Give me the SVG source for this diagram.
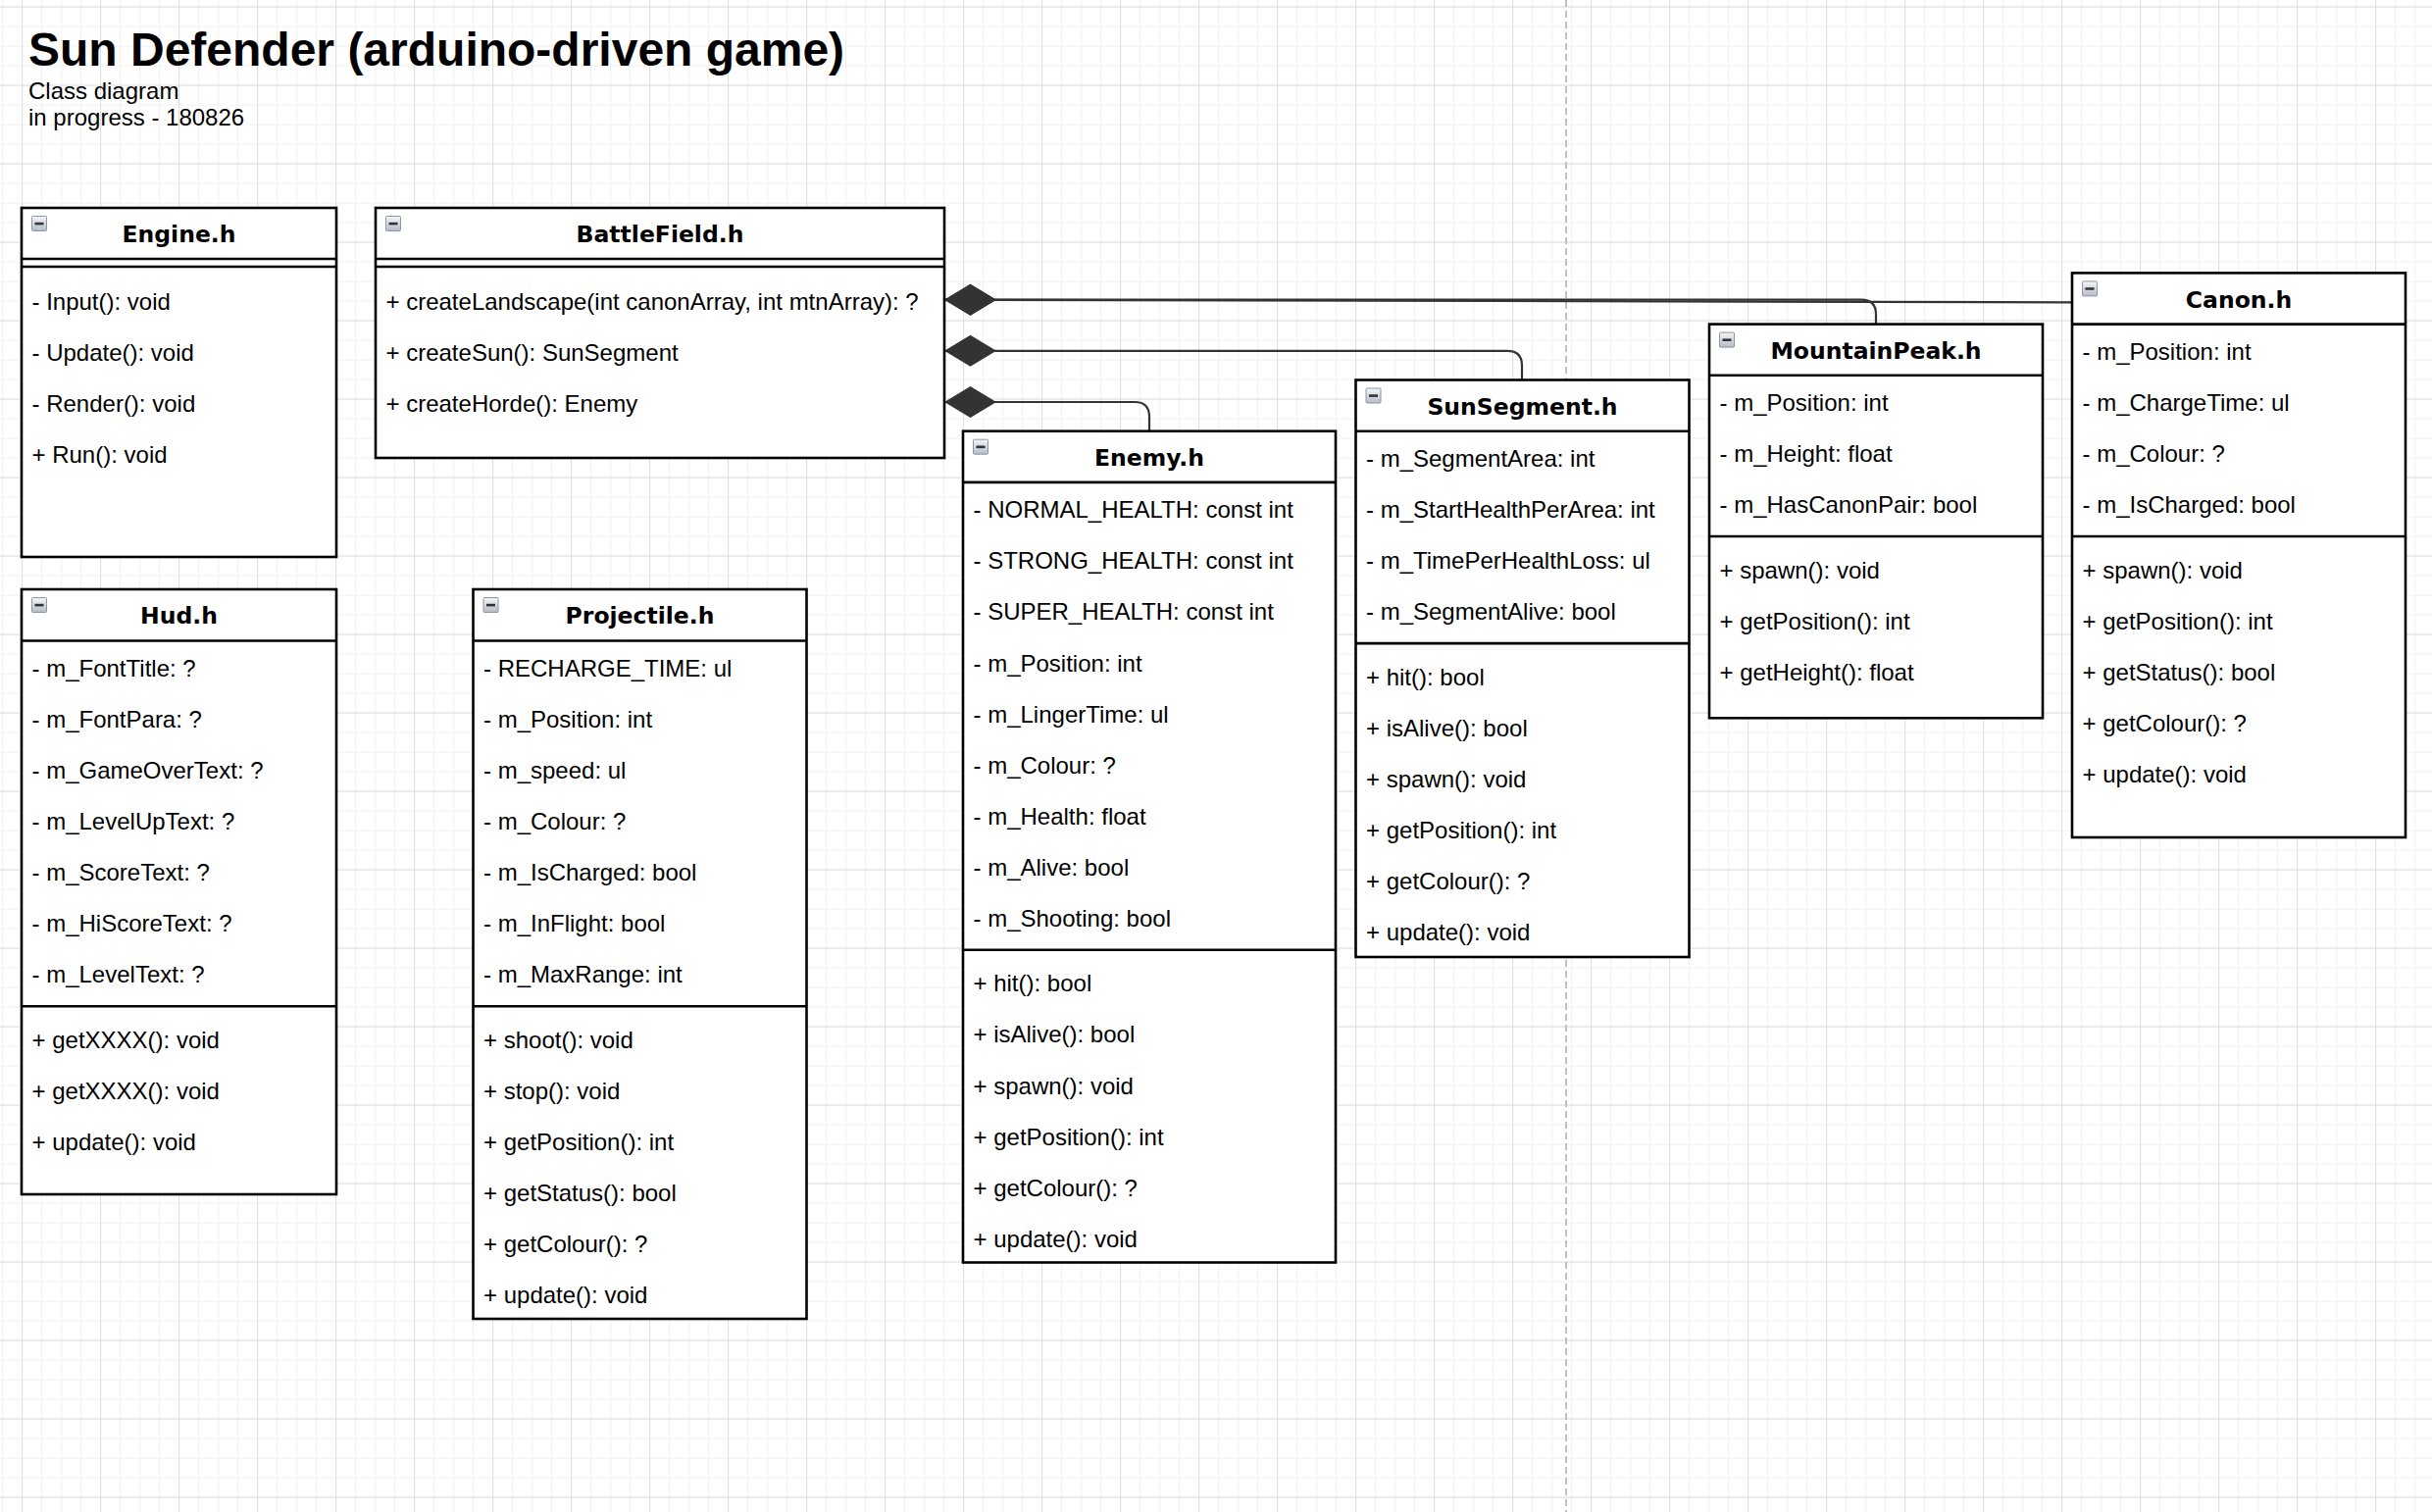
<svg xmlns="http://www.w3.org/2000/svg" xmlns:xlink="http://www.w3.org/1999/xlink" width="2480" height="1542" viewBox="0 0 2480 1542">
<defs>
<style>
.box{fill:#fff;stroke:#000;stroke-width:2.6}
.sep{stroke:#000;stroke-width:2.6}
.hd{font-family:"DejaVu Sans",Verdana,sans-serif;font-weight:bold;font-size:23.5px;text-anchor:middle;fill:#000}
.it{font-family:"Liberation Sans",Arial,sans-serif;font-size:24px;fill:#000}
.conn{fill:none;stroke:#333;stroke-width:2.2;marker-start:url(#dmd)}
.title{font-family:"Liberation Sans",Arial,sans-serif;font-weight:bold;font-size:48px;fill:#000}
.sub{font-family:"Liberation Sans",Arial,sans-serif;font-size:24px;fill:#000}
</style>
<pattern id="minor" patternUnits="userSpaceOnUse" x="2" y="6.5" width="20" height="20">
<path d="M0 0.5H20M0.5 0V20" fill="none" stroke="#f2f2f2" stroke-width="1.3"/>
</pattern>
<pattern id="major" patternUnits="userSpaceOnUse" x="22" y="6.5" width="80" height="80">
<path d="M0 0.5H80M0.5 0V80" fill="none" stroke="#dedede" stroke-width="1"/>
</pattern>
<linearGradient id="icoG" x1="0" y1="0" x2="0" y2="1">
<stop offset="0" stop-color="#f4f6f8"/>
<stop offset="1" stop-color="#b4bcc8"/>
</linearGradient>
<g id="ico">
<rect x="0.5" y="0.5" width="15" height="15" rx="1" fill="url(#icoG)" stroke="#8c96a4" stroke-width="1"/>
<rect x="3.5" y="6.8" width="9" height="2.6" fill="#333"/>
</g>
<marker id="dmd" markerUnits="userSpaceOnUse" markerWidth="54" markerHeight="34" refX="0" refY="16" orient="auto" overflow="visible">
<path d="M0,16 L26.5,0 L53,16 L26.5,32 Z" fill="#333"/>
</marker>
</defs>

<rect width="2480" height="1542" fill="#fff"/>
<rect width="2480" height="1542" fill="url(#minor)"/>
<rect width="2480" height="1542" fill="url(#major)"/>
<line x1="1597" y1="0" x2="1597" y2="1542" stroke="#c0c0c0" stroke-width="2" stroke-dasharray="7 4"/>

<g id="title">
<text class="title" x="29" y="67">Sun Defender (arduino-driven game)</text>
<text class="sub" x="29" y="101">Class diagram</text>
<text class="sub" x="29" y="128">in progress - 180826</text>
</g>

<g id="connectors">
<path class="conn" d="M963,305.7 H1898 Q1913,305.7 1913,320.7 V330.6"/>
<path class="conn" d="M963,305.7 L2113,308.4"/>
<path class="conn" d="M963,357.8 H1537 Q1552,357.8 1552,372.8 V387.5"/>
<path class="conn" d="M963,410 H1157 Q1172,410 1172,425 V439.7"/>
</g>

<g id="engine">
<rect class="box" x="22" y="212" width="321" height="356"/>
<line class="sep" x1="22" y1="264" x2="343" y2="264"/>
<line class="sep" x1="22" y1="272" x2="343" y2="272"/>
<use xlink:href="#ico" x="32" y="220"/>
<text class="hd" x="182.5" y="247">Engine.h</text>
<text class="it" x="32.5" y="315.5">- Input(): void</text>
<text class="it" x="32.5" y="367.7">- Update(): void</text>
<text class="it" x="32.5" y="419.9">- Render(): void</text>
<text class="it" x="32.5" y="472.1">+ Run(): void</text>
</g>

<g id="battlefield">
<rect class="box" x="383" y="212" width="580" height="255"/>
<line class="sep" x1="383" y1="264" x2="963" y2="264"/>
<line class="sep" x1="383" y1="272" x2="963" y2="272"/>
<use xlink:href="#ico" x="393" y="220"/>
<text class="hd" x="673" y="247">BattleField.h</text>
<text class="it" x="393.5" y="315.5">+ createLandscape(int canonArray, int mtnArray): ?</text>
<text class="it" x="393.5" y="367.7">+ createSun(): SunSegment</text>
<text class="it" x="393.5" y="419.9">+ createHorde(): Enemy</text>
</g>

<g id="hud">
<rect class="box" x="22" y="601" width="321" height="617"/>
<line class="sep" x1="22" y1="653.5" x2="343" y2="653.5"/>
<line class="sep" x1="22" y1="1026.2" x2="343" y2="1026.2"/>
<use xlink:href="#ico" x="32" y="609"/>
<text class="hd" x="182.5" y="636.3">Hud.h</text>
<text class="it" x="32.5" y="689.8">- m_FontTitle: ?</text>
<text class="it" x="32.5" y="741.9">- m_FontPara: ?</text>
<text class="it" x="32.5" y="794">- m_GameOverText: ?</text>
<text class="it" x="32.5" y="846.1">- m_LevelUpText: ?</text>
<text class="it" x="32.5" y="898.2">- m_ScoreText: ?</text>
<text class="it" x="32.5" y="950.3">- m_HiScoreText: ?</text>
<text class="it" x="32.5" y="1002.4">- m_LevelText: ?</text>
<text class="it" x="32.5" y="1068.7">+ getXXXX(): void</text>
<text class="it" x="32.5" y="1120.8">+ getXXXX(): void</text>
<text class="it" x="32.5" y="1172.9">+ update(): void</text>
</g>

<g id="projectile">
<rect class="box" x="482.5" y="601" width="340" height="744"/>
<line class="sep" x1="482.5" y1="653.5" x2="822.5" y2="653.5"/>
<line class="sep" x1="482.5" y1="1026.2" x2="822.5" y2="1026.2"/>
<use xlink:href="#ico" x="492.5" y="609"/>
<text class="hd" x="652.5" y="636.3">Projectile.h</text>
<text class="it" x="493" y="689.8">- RECHARGE_TIME: ul</text>
<text class="it" x="493" y="741.9">- m_Position: int</text>
<text class="it" x="493" y="794">- m_speed: ul</text>
<text class="it" x="493" y="846.1">- m_Colour: ?</text>
<text class="it" x="493" y="898.2">- m_IsCharged: bool</text>
<text class="it" x="493" y="950.3">- m_InFlight: bool</text>
<text class="it" x="493" y="1002.4">- m_MaxRange: int</text>
<text class="it" x="493" y="1068.7">+ shoot(): void</text>
<text class="it" x="493" y="1120.8">+ stop(): void</text>
<text class="it" x="493" y="1172.9">+ getPosition(): int</text>
<text class="it" x="493" y="1225">+ getStatus(): bool</text>
<text class="it" x="493" y="1277.1">+ getColour(): ?</text>
<text class="it" x="493" y="1329.2">+ update(): void</text>
</g>

<g id="enemy">
<rect class="box" x="982" y="439.7" width="380" height="847.8"/>
<line class="sep" x1="982" y1="491.9" x2="1362" y2="491.9"/>
<line class="sep" x1="982" y1="968.8" x2="1362" y2="968.8"/>
<use xlink:href="#ico" x="992" y="447.7"/>
<text class="hd" x="1172" y="474.8">Enemy.h</text>
<text class="it" x="992.5" y="528.2">- NORMAL_HEALTH: const int</text>
<text class="it" x="992.5" y="580.3">- STRONG_HEALTH: const int</text>
<text class="it" x="992.5" y="632.4">- SUPER_HEALTH: const int</text>
<text class="it" x="992.5" y="684.5">- m_Position: int</text>
<text class="it" x="992.5" y="736.6">- m_LingerTime: ul</text>
<text class="it" x="992.5" y="788.7">- m_Colour: ?</text>
<text class="it" x="992.5" y="840.8">- m_Health: float</text>
<text class="it" x="992.5" y="892.9">- m_Alive: bool</text>
<text class="it" x="992.5" y="945">- m_Shooting: bool</text>
<text class="it" x="992.5" y="1011.3">+ hit(): bool</text>
<text class="it" x="992.5" y="1063.4">+ isAlive(): bool</text>
<text class="it" x="992.5" y="1115.5">+ spawn(): void</text>
<text class="it" x="992.5" y="1167.6">+ getPosition(): int</text>
<text class="it" x="992.5" y="1219.7">+ getColour(): ?</text>
<text class="it" x="992.5" y="1271.8">+ update(): void</text>
</g>

<g id="sunsegment">
<rect class="box" x="1382.5" y="387.5" width="340" height="588.5"/>
<line class="sep" x1="1382.5" y1="439.7" x2="1722.5" y2="439.7"/>
<line class="sep" x1="1382.5" y1="656.1" x2="1722.5" y2="656.1"/>
<use xlink:href="#ico" x="1392.5" y="395.5"/>
<text class="hd" x="1552.5" y="422.6">SunSegment.h</text>
<text class="it" x="1393" y="476">- m_SegmentArea: int</text>
<text class="it" x="1393" y="528.1">- m_StartHealthPerArea: int</text>
<text class="it" x="1393" y="580.2">- m_TimePerHealthLoss: ul</text>
<text class="it" x="1393" y="632.3">- m_SegmentAlive: bool</text>
<text class="it" x="1393" y="698.6">+ hit(): bool</text>
<text class="it" x="1393" y="750.7">+ isAlive(): bool</text>
<text class="it" x="1393" y="802.8">+ spawn(): void</text>
<text class="it" x="1393" y="854.9">+ getPosition(): int</text>
<text class="it" x="1393" y="907">+ getColour(): ?</text>
<text class="it" x="1393" y="959.1">+ update(): void</text>
</g>

<g id="mountainpeak">
<rect class="box" x="1743" y="330.6" width="340" height="401.7"/>
<line class="sep" x1="1743" y1="382.7" x2="2083" y2="382.7"/>
<line class="sep" x1="1743" y1="547" x2="2083" y2="547"/>
<use xlink:href="#ico" x="1753" y="338.6"/>
<text class="hd" x="1913" y="365.7">MountainPeak.h</text>
<text class="it" x="1753.5" y="419">- m_Position: int</text>
<text class="it" x="1753.5" y="471.1">- m_Height: float</text>
<text class="it" x="1753.5" y="523.2">- m_HasCanonPair: bool</text>
<text class="it" x="1753.5" y="589.5">+ spawn(): void</text>
<text class="it" x="1753.5" y="641.6">+ getPosition(): int</text>
<text class="it" x="1753.5" y="693.7">+ getHeight(): float</text>
</g>

<g id="canon">
<rect class="box" x="2113" y="278.4" width="340" height="575.6"/>
<line class="sep" x1="2113" y1="330.6" x2="2453" y2="330.6"/>
<line class="sep" x1="2113" y1="547" x2="2453" y2="547"/>
<use xlink:href="#ico" x="2123" y="286.4"/>
<text class="hd" x="2283" y="313.5">Canon.h</text>
<text class="it" x="2123.5" y="366.9">- m_Position: int</text>
<text class="it" x="2123.5" y="419">- m_ChargeTime: ul</text>
<text class="it" x="2123.5" y="471.1">- m_Colour: ?</text>
<text class="it" x="2123.5" y="523.2">- m_IsCharged: bool</text>
<text class="it" x="2123.5" y="589.5">+ spawn(): void</text>
<text class="it" x="2123.5" y="641.6">+ getPosition(): int</text>
<text class="it" x="2123.5" y="693.7">+ getStatus(): bool</text>
<text class="it" x="2123.5" y="745.8">+ getColour(): ?</text>
<text class="it" x="2123.5" y="797.9">+ update(): void</text>
</g>
</svg>
